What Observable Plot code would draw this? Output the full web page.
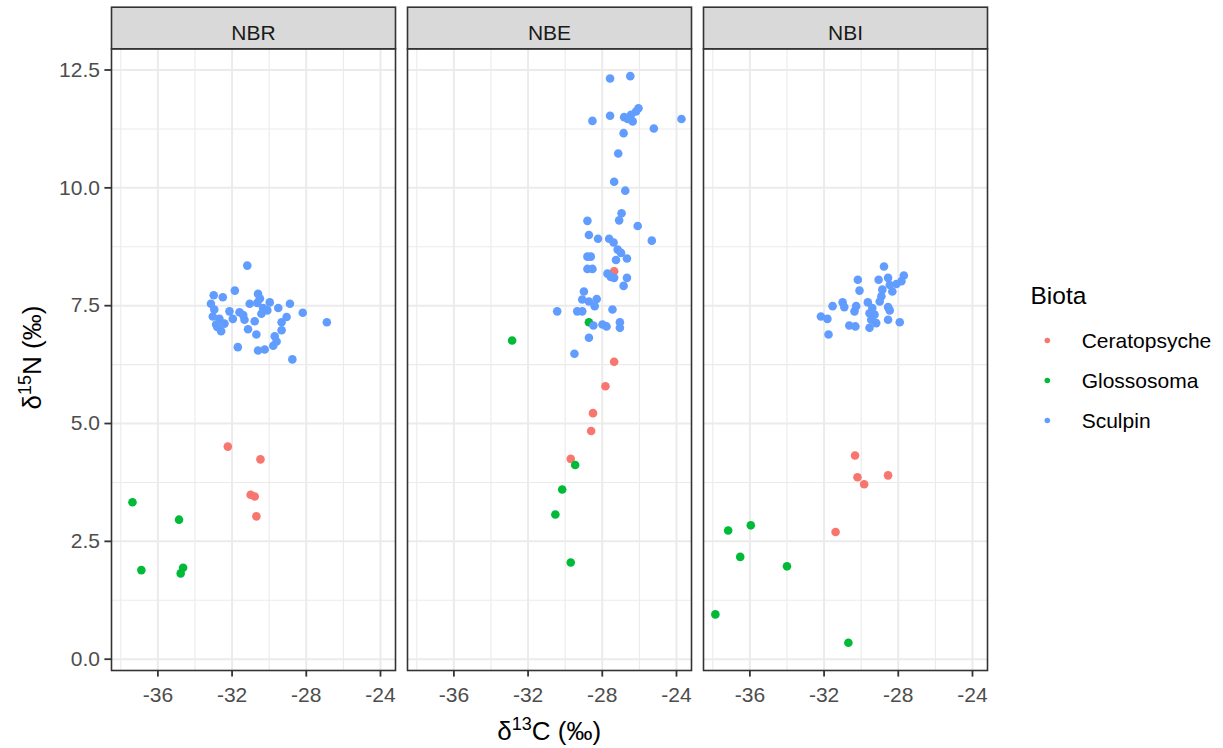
<!DOCTYPE html>
<html>
<head>
<meta charset="utf-8">
<script src="https://cdn.jsdelivr.net/npm/d3@7"></script>
<script src="https://cdn.jsdelivr.net/npm/@observablehq/plot@0.6"></script>
<style>
  html, body { margin: 0; padding: 0; background: #fff; }
  #chart { width: 1223px; height: 748px; }
</style>
</head>
<body>
<div id="chart"></div>
<script>
// ---- categories & ticks ----
const facets = ["NBR", "NBE", "NBI"];
const biota = ["Ceratopsyche", "Glossosoma", "Sculpin"];
const biotaColors = ["#F8766D", "#00BA38", "#619CFF"];
const xMajor = [-36, -32, -28, -24];
const xMinor = [-38, -34, -30, -26];
const yMajor = [0, 2.5, 5, 7.5, 10, 12.5];
const yMinor = [1.25, 3.75, 6.25, 8.75, 11.25];

// ---- data: [d13C, d15N] ----
const nbrCeratopsyche = [[-32.23, 4.51], [-30.47, 4.24], [-31.0, 3.49], [-30.78, 3.45], [-30.69, 3.03]];
const nbrGlossosoma = [[-37.37, 3.33], [-34.86, 2.96], [-36.89, 1.89], [-34.64, 1.94], [-34.77, 1.82]];
const nbrSculpin = [
  [-31.18, 8.35], [-31.85, 7.82], [-32.99, 7.72], [-32.5, 7.68], [-30.6, 7.75], [-33.14, 7.54],
  [-31.05, 7.54], [-30.64, 7.56], [-29.97, 7.57], [-28.88, 7.54], [-30.33, 7.45], [-29.51, 7.45],
  [-32.96, 7.42], [-32.14, 7.38], [-31.6, 7.36], [-28.19, 7.35], [-30.42, 7.33], [-33.04, 7.27],
  [-32.68, 7.22], [-31.96, 7.22], [-31.33, 7.2], [-30.78, 7.17], [-29.06, 7.26], [-26.89, 7.15],
  [-32.86, 7.1], [-32.41, 7.12], [-29.33, 7.15], [-32.59, 6.96], [-31.14, 7.0], [-29.33, 6.98],
  [-30.69, 6.89], [-29.7, 6.85], [-29.6, 6.74], [-31.69, 6.62], [-30.6, 6.55], [-30.24, 6.57],
  [-29.78, 6.65], [-28.75, 6.36], [-30.5, 7.65], [-30.1, 7.4], [-31.4, 7.3], [-32.8, 7.05]
];
const nbeCeratopsyche = [[-27.36, 8.23], [-27.36, 6.31], [-27.83, 5.79], [-28.5, 5.22], [-28.6, 4.84], [-29.7, 4.25]];
const nbeGlossosoma = [[-28.72, 7.15], [-32.86, 6.76], [-29.46, 4.12], [-30.16, 3.6], [-30.53, 3.07], [-29.7, 2.05]];
const nbeSculpin = [
  [-27.58, 12.32], [-26.49, 12.37], [-28.53, 11.42], [-27.58, 11.53], [-26.82, 11.5], [-26.45, 11.55],
  [-26.18, 11.62], [-26.05, 11.69], [-26.36, 11.41], [-26.63, 11.46], [-23.73, 11.46], [-25.22, 11.26],
  [-26.85, 11.16], [-27.14, 10.73], [-27.36, 10.13], [-26.76, 9.94], [-26.96, 9.46], [-27.09, 9.31],
  [-28.8, 9.3], [-26.09, 9.19], [-28.72, 9.0], [-28.23, 8.92], [-27.63, 8.92], [-27.39, 8.84],
  [-25.33, 8.88], [-27.17, 8.69], [-26.99, 8.62], [-27.26, 8.47], [-26.67, 8.5], [-28.8, 8.54],
  [-28.62, 8.54], [-28.8, 8.28], [-28.53, 8.28], [-27.72, 8.18], [-27.54, 8.11], [-27.36, 8.09],
  [-26.67, 8.09], [-26.85, 7.92], [-28.99, 7.8], [-29.08, 7.63], [-28.72, 7.59], [-28.3, 7.64],
  [-28.41, 7.49], [-30.43, 7.38], [-29.35, 7.38], [-29.08, 7.38], [-27.45, 7.42], [-28.48, 7.08],
  [-27.99, 7.1], [-27.77, 7.06], [-27.05, 7.15], [-27.05, 7.03], [-28.72, 6.82], [-29.5, 6.48]
];
const nbiCeratopsyche = [[-30.33, 4.32], [-30.2, 3.86], [-29.84, 3.71], [-28.55, 3.9], [-31.38, 2.7]];
const nbiGlossosoma = [[-37.17, 2.73], [-35.95, 2.84], [-36.52, 2.17], [-34.0, 1.97], [-37.86, 0.95], [-30.69, 0.35]];
const nbiSculpin = [
  [-28.77, 8.33], [-30.18, 8.05], [-29.06, 8.05], [-28.55, 8.09], [-27.7, 8.14], [-27.83, 8.02],
  [-28.1, 7.96], [-28.46, 7.94], [-28.86, 7.84], [-28.32, 7.8], [-30.09, 7.82], [-28.91, 7.7],
  [-29.0, 7.59], [-31.0, 7.57], [-31.54, 7.49], [-30.91, 7.47], [-30.27, 7.49], [-29.64, 7.57],
  [-29.4, 7.45], [-28.55, 7.47], [-28.46, 7.4], [-30.36, 7.38], [-29.55, 7.34], [-29.28, 7.31],
  [-32.17, 7.27], [-31.82, 7.22], [-29.46, 7.2], [-28.55, 7.2], [-27.92, 7.15], [-30.64, 7.08],
  [-30.31, 7.06], [-29.55, 7.03], [-29.19, 7.13], [-31.76, 6.89]
];

const groups = [
  ["NBR", "Ceratopsyche", nbrCeratopsyche], ["NBR", "Glossosoma", nbrGlossosoma], ["NBR", "Sculpin", nbrSculpin],
  ["NBE", "Ceratopsyche", nbeCeratopsyche], ["NBE", "Glossosoma", nbeGlossosoma], ["NBE", "Sculpin", nbeSculpin],
  ["NBI", "Ceratopsyche", nbiCeratopsyche], ["NBI", "Glossosoma", nbiGlossosoma], ["NBI", "Sculpin", nbiSculpin]
];
const rows = [];
for (const [site, b, pts] of groups) for (const [c, n] of pts) rows.push({site, biota: b, c, n});

// ---- layout ----
const W = 1223, H = 748;
const mL = 111, mR = 235.5, mT = 48.3, mB = 78;
const frameH = H - mT - mB;
const stripH = 41.6;
const font = "'Liberation Sans', Arial, Helvetica, sans-serif";

const chart = Plot.plot({
  width: W, height: H,
  marginLeft: mL, marginRight: mR, marginTop: mT, marginBottom: mB,
  style: {fontFamily: font, background: "white", overflow: "visible"},
  fx: {domain: facets, paddingInner: 0.042, paddingOuter: 0, axis: null, label: null},
  x: {domain: [-38.5, -23.19], label: null},
  y: {domain: [-0.24, 12.95], label: null},
  color: {domain: biota, range: biotaColors},
  marks: [
    Plot.ruleX(xMinor, {stroke: "#EBEBEB", strokeWidth: 1.1}),
    Plot.ruleY(yMinor, {stroke: "#EBEBEB", strokeWidth: 1.1}),
    Plot.ruleX(xMajor, {stroke: "#EBEBEB", strokeWidth: 2}),
    Plot.ruleY(yMajor, {stroke: "#EBEBEB", strokeWidth: 2}),
    Plot.dot(rows, {x: "c", y: "n", fx: "site", fill: "biota", r: 4.3, stroke: null}),
    Plot.frame({stroke: "#333333", strokeWidth: 1.6}),
    Plot.frame({fill: "#D9D9D9", stroke: "#333333", strokeWidth: 1.6, insetTop: -stripH, insetBottom: frameH}),
    Plot.text(facets, {fx: d => d, text: d => d, frameAnchor: "top", dy: -16, lineAnchor: "middle",
      fontSize: 21, fill: "#1A1A1A"}),
    Plot.axisX({ticks: xMajor, tickFormat: d => String(d), tickSize: 6.6, tickPadding: 9.5, fontSize: 21,
      stroke: "#333333", strokeWidth: 1.8, fill: "#4D4D4D", label: null}),
    Plot.axisY({ticks: yMajor, tickFormat: d3.format(".1f"), tickSize: 6.6, tickPadding: 5, fontSize: 21,
      stroke: "#333333", strokeWidth: 1.8, fill: "#4D4D4D", label: null})
  ]
});

document.getElementById("chart").appendChild(chart);

// ---- axis titles with superscripts, and legend ----
const svg = d3.select(chart);
const xt = svg.append("text")
  .attr("x", mL + (W - mL - mR) / 2).attr("y", 740)
  .attr("text-anchor", "middle").attr("font-size", 26).attr("fill", "#000").attr("font-family", font);
xt.append("tspan").text("δ");
xt.append("tspan").attr("dy", -10).attr("font-size", 18).text("13");
xt.append("tspan").attr("dy", 10).text("C (‰)");

const yt = svg.append("text")
  .attr("transform", `translate(40.5, ${357.5}) rotate(-90)`)
  .attr("text-anchor", "middle").attr("font-size", 26).attr("fill", "#000").attr("font-family", font);
yt.append("tspan").text("δ");
yt.append("tspan").attr("dy", -10).attr("font-size", 18).text("15");
yt.append("tspan").attr("dy", 10).text("N (‰)");

const lg = svg.append("g").attr("font-family", font).attr("text-anchor", "start");
lg.append("text").attr("x", 1030.5).attr("y", 304.3).attr("font-size", 24.5).attr("fill", "#000")
  .attr("text-anchor", "start").text("Biota");
biota.forEach((b, i) => {
  const cy = 340.5 + i * 40;
  lg.append("circle").attr("cx", 1047.3).attr("cy", cy).attr("r", 2.8).attr("fill", biotaColors[i]);
  lg.append("text").attr("x", 1081.7).attr("y", cy).attr("dy", "0.36em").attr("font-size", 21)
    .attr("text-anchor", "start").attr("fill", "#000").text(b);
});
</script>
</body>
</html>
